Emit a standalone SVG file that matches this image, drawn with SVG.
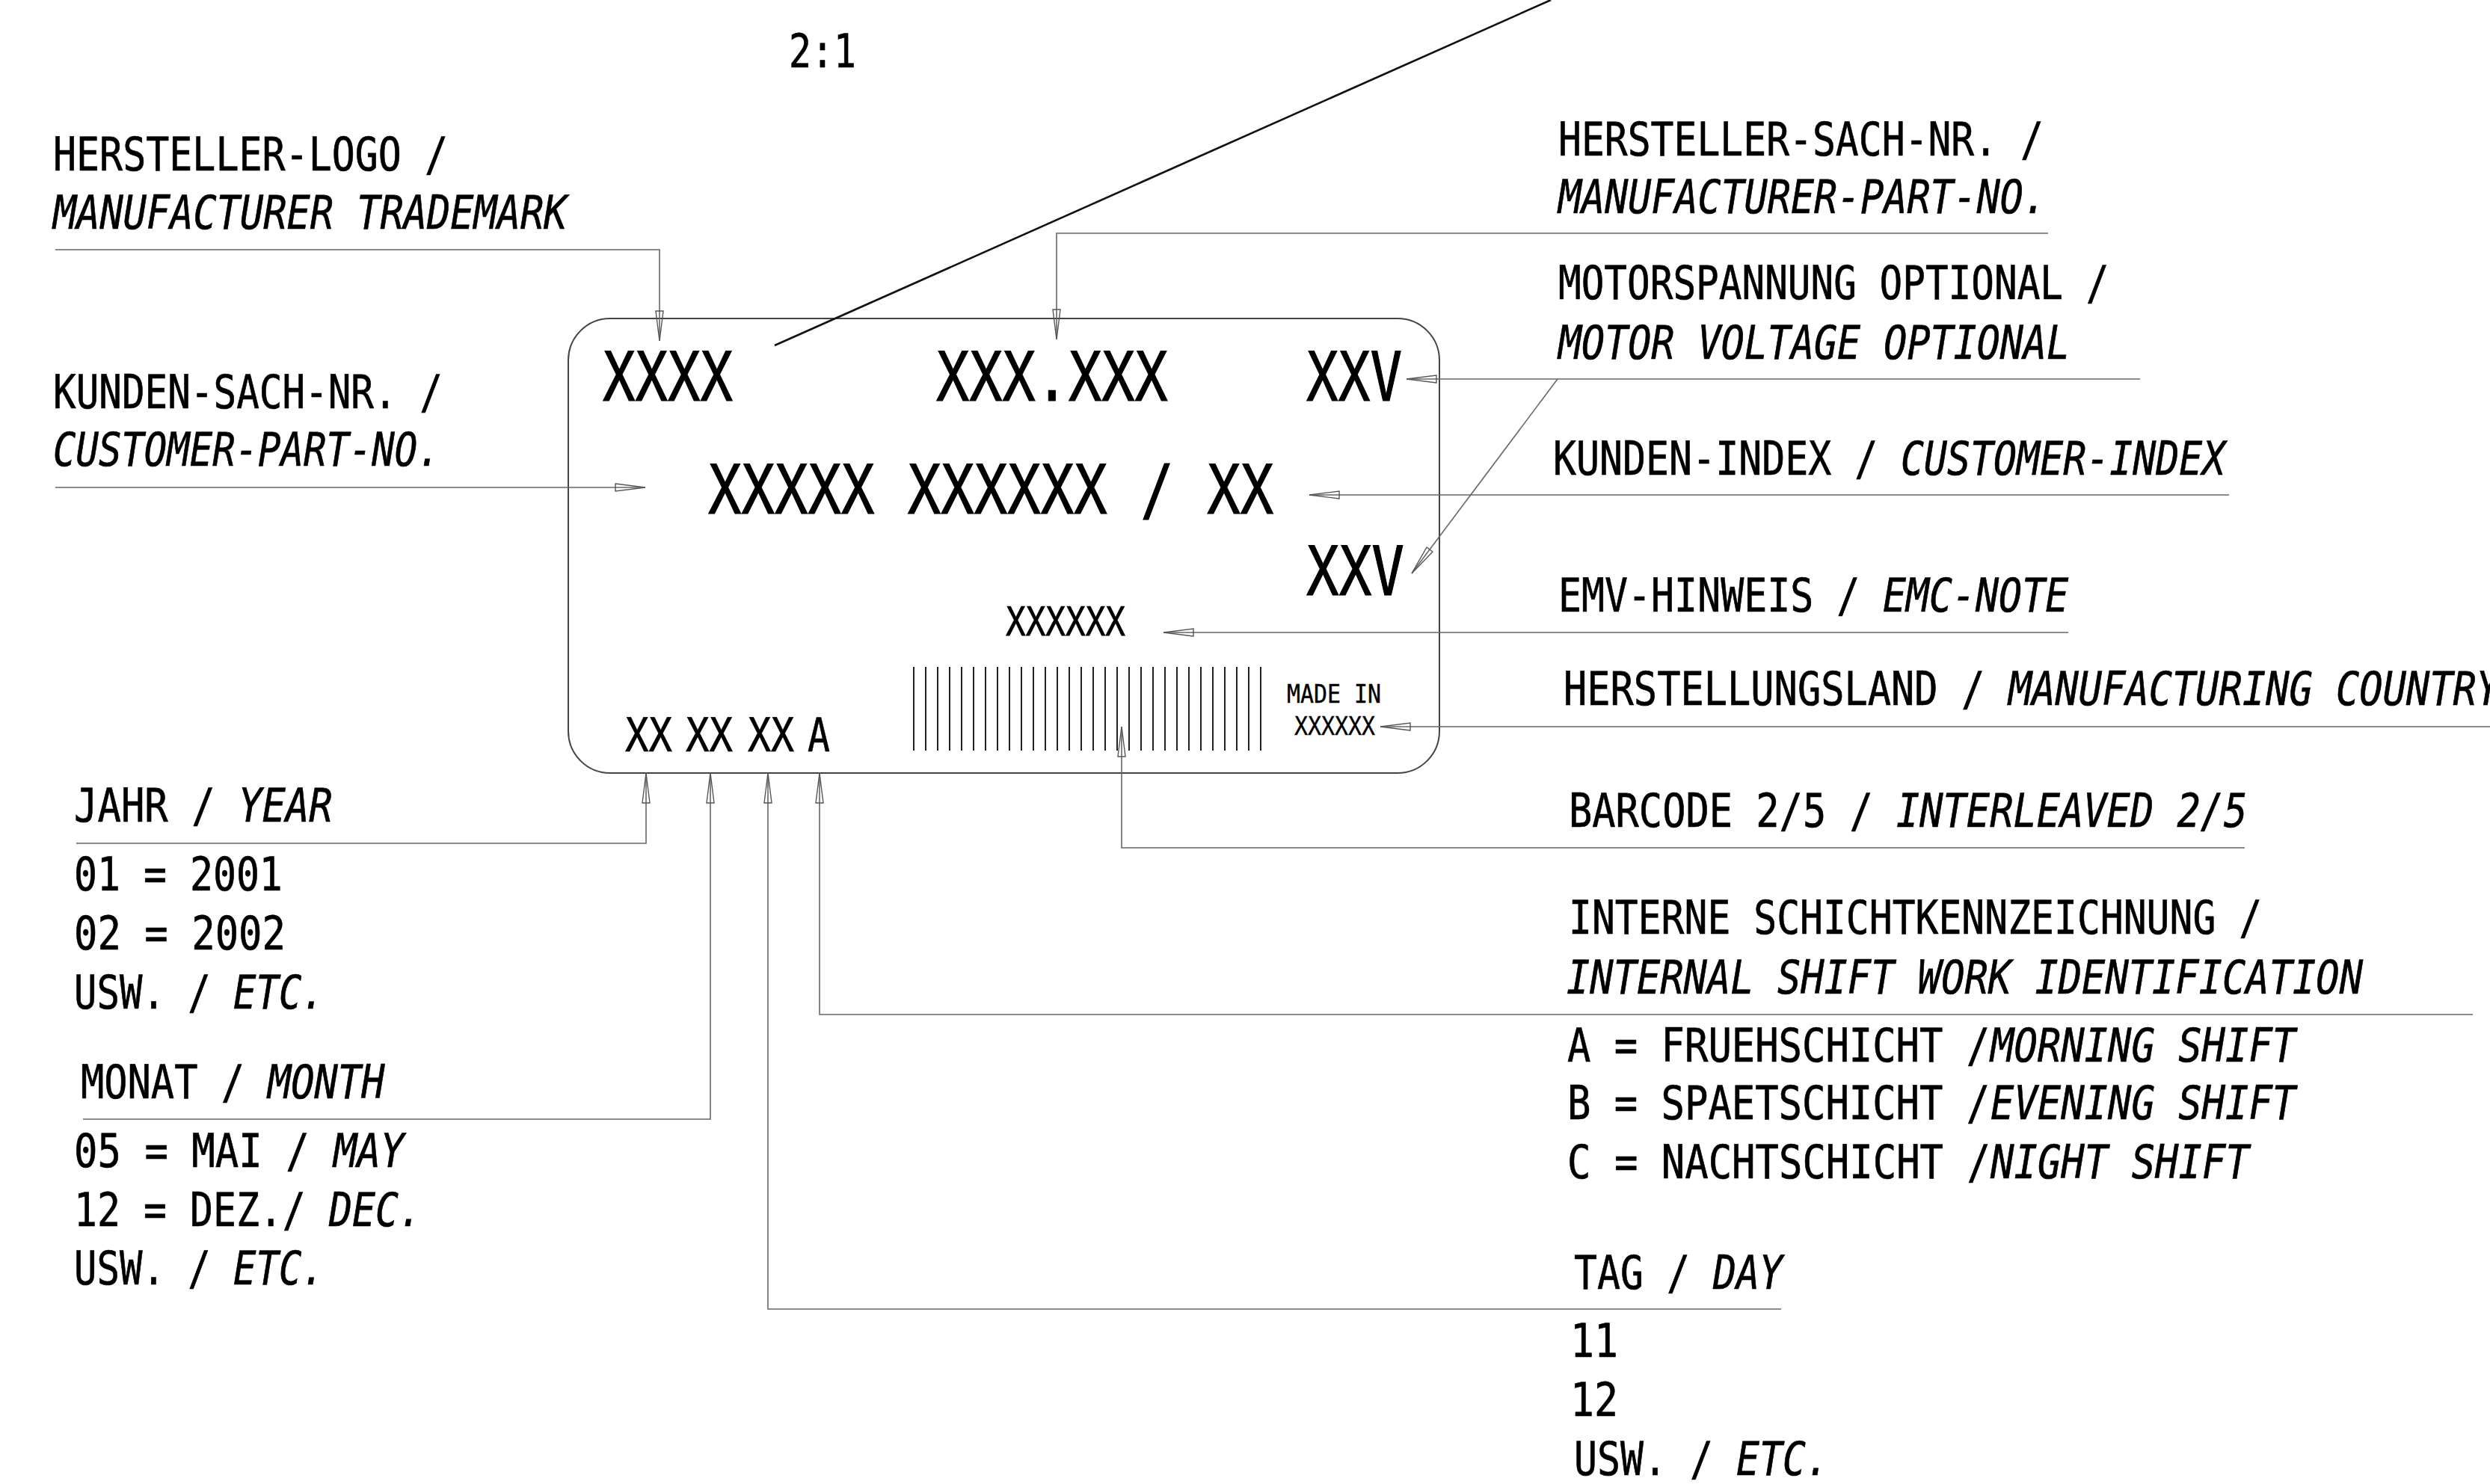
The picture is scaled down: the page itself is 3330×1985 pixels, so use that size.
<svg xmlns="http://www.w3.org/2000/svg" width="3330" height="1985" viewBox="0 0 3330 1985">
<defs>
<style>
text{font-family:"DejaVu Sans Mono","Liberation Mono",monospace;fill:#000;stroke:#000;stroke-width:0.7;}
.l{font-size:63px;}
.big{font-size:90px;stroke-width:1.2;}
.mid{font-size:53px;}
.sm{font-size:34px;stroke-width:0.4;}
.i{font-style:italic;}
.ld{fill:none;stroke:#666;stroke-width:1.6;}
.ar{marker-end:url(#arr);}
</style>
<marker id="arr" markerUnits="userSpaceOnUse" markerWidth="44" markerHeight="14" refX="40" refY="6" orient="auto" overflow="visible">
<path d="M0,1 L40,6 L0,11 Z" fill="none" stroke="#555" stroke-width="1.4"/>
</marker>
</defs>
<rect width="3330" height="1985" fill="#fff"/>

<text class="l" transform="translate(1055,90) scale(0.79,1)">2:1</text>

<g id="label">
<rect x="760" y="426" width="1165" height="608" rx="56" ry="56" fill="none" stroke="#444" stroke-width="2"/>
<text class="big" transform="translate(806,536) scale(0.803,1)">XXXX</text>
<text class="big" transform="translate(1252,536) scale(0.817,1)">XXX.XXX</text>
<text class="big" transform="translate(1747,536) scale(0.788,1)">XXV</text>
<text class="big" transform="translate(947,687) scale(0.821,1)">XXXXX XXXXXX / XX</text>
<text class="big" transform="translate(1747,796) scale(0.806,1)">XXV</text>
<text class="mid" transform="translate(1345,850) scale(0.836,1)">XXXXXX</text>
<text class="sm" transform="translate(1721,940) scale(0.879,1)">MADE IN</text>
<text class="sm" transform="translate(1731,983) scale(0.879,1)">XXXXXX</text>
<text class="l" transform="translate(836,1005) scale(0.83,1)">XX</text>
<text class="l" transform="translate(917,1005) scale(0.83,1)">XX</text>
<text class="l" transform="translate(1000,1005) scale(0.82,1)">XX</text>
<text class="l" transform="translate(1080,1005) scale(0.79,1)">A</text>
<g id="barcode" stroke="#222" stroke-width="2">
<path d="M1222,892V1004M1238,892V1004M1254,892V1004M1270,892V1004M1286,892V1004M1302,892V1004M1318,892V1004M1334,892V1004M1350,892V1004M1366,892V1004M1382,892V1004M1398,892V1004M1414,892V1004M1430,892V1004M1446,892V1004M1462,892V1004M1478,892V1004M1494,892V1004M1510,892V1004M1526,892V1004M1542,892V1004M1558,892V1004M1574,892V1004M1590,892V1004M1606,892V1004M1622,892V1004M1638,892V1004M1654,892V1004M1670,892V1004M1686,892V1004"/>
</g>
</g>

<g id="connectors">
<line x1="1036" y1="462" x2="2074" y2="0" stroke="#111" stroke-width="2.6"/>
<polyline class="ld ar" points="74,334 882,334 882,456"/>
<polyline class="ld ar" points="2739,312 1413,312 1413,454"/>
<polyline class="ld ar" points="2862,507 1881,507"/>
<polyline class="ld ar" points="2083,507 1888,767"/>
<polyline class="ld ar" points="74,652 863,652"/>
<polyline class="ld ar" points="2981,662 1751,662"/>
<polyline class="ld ar" points="2766,846 1556,846"/>
<polyline class="ld ar" points="3330,972 1846,972"/>
<polyline class="ld ar" points="3002,1134 1500,1134 1500,972"/>
<polyline class="ld ar" points="3307,1357 1096,1357 1096,1034"/>
<polyline class="ld ar" points="2382,1751 1027,1751 1027,1034"/>
<polyline class="ld ar" points="111,1497 950,1497 950,1034"/>
<polyline class="ld ar" points="102,1128 864,1128 864,1034"/>
</g>

<g id="n-trademark">
<text class="l" transform="translate(71,228) scale(0.819,1)">HERSTELLER-LOGO /</text>
<text class="l i" transform="translate(71,306) scale(0.824,1)">MANUFACTURER TRADEMARK</text>
</g>
<g id="n-customer-part">
<text class="l" transform="translate(71,546) scale(0.808,1)">KUNDEN-SACH-NR. /</text>
<text class="l i" transform="translate(71,623) scale(0.803,1)">CUSTOMER-PART-NO.</text>
</g>
<g id="n-mfr-part">
<text class="l" transform="translate(2084,208) scale(0.815,1)">HERSTELLER-SACH-NR. /</text>
<text class="l i" transform="translate(2084,285) scale(0.82,1)">MANUFACTURER-PART-NO.</text>
</g>
<g id="n-motor">
<text class="l" transform="translate(2084,400) scale(0.809,1)">MOTORSPANNUNG OPTIONAL /</text>
<text class="l i" transform="translate(2084,480) scale(0.82,1)">MOTOR VOLTAGE OPTIONAL</text>
</g>
<g id="n-customer-index">
<text class="l" transform="translate(2077,635) scale(0.818,1)">KUNDEN-INDEX /</text>
<text class="l i" transform="translate(2542,635) scale(0.818,1)">CUSTOMER-INDEX</text>
</g>
<g id="n-emv">
<text class="l" transform="translate(2084,818) scale(0.818,1)">EMV-HINWEIS /</text>
<text class="l i" transform="translate(2518,818) scale(0.818,1)">EMC-NOTE</text>
</g>
<g id="n-country">
<text class="l" transform="translate(2091,943) scale(0.825,1)">HERSTELLUNGSLAND /</text>
<text class="l i" transform="translate(2686,943) scale(0.825,1)">MANUFACTURING COUNTRY</text>
</g>
<g id="n-barcode">
<text class="l" transform="translate(2098,1106) scale(0.825,1)">BARCODE 2/5 /</text>
<text class="l i" transform="translate(2536,1106) scale(0.825,1)">INTERLEAVED 2/5</text>
</g>
<g id="n-shift">
<text class="l" transform="translate(2098,1249) scale(0.815,1)">INTERNE SCHICHTKENNZEICHNUNG /</text>
<text class="l i" transform="translate(2095,1329) scale(0.826,1)">INTERNAL SHIFT WORK IDENTIFICATION</text>
<text class="l" transform="translate(2096,1420) scale(0.828,1)">A = FRUEHSCHICHT /</text>
<text class="l i" transform="translate(2662,1420) scale(0.828,1)">MORNING SHIFT</text>
<text class="l" transform="translate(2096,1497) scale(0.828,1)">B = SPAETSCHICHT /</text>
<text class="l i" transform="translate(2662,1497) scale(0.828,1)">EVENING SHIFT</text>
<text class="l" transform="translate(2096,1576) scale(0.829,1)">C = NACHTSCHICHT /</text>
<text class="l i" transform="translate(2662,1576) scale(0.829,1)">NIGHT SHIFT</text>
</g>
<g id="n-day">
<text class="l" transform="translate(2105,1724) scale(0.817,1)">TAG /</text>
<text class="l i" transform="translate(2291,1724) scale(0.817,1)">DAY</text>
<text class="l" transform="translate(2100,1815) scale(0.844,1)">11</text>
<text class="l" transform="translate(2100,1894) scale(0.844,1)">12</text>
<text class="l" transform="translate(2105,1973) scale(0.817,1)">USW. /</text>
<text class="l i" transform="translate(2322,1973) scale(0.817,1)">ETC.</text>
</g>
<g id="n-year">
<text class="l" transform="translate(99,1099) scale(0.829,1)">JAHR /</text>
<text class="l i" transform="translate(319,1099) scale(0.829,1)">YEAR</text>
<text class="l" transform="translate(99,1191) scale(0.817,1)">01 = 2001</text>
<text class="l" transform="translate(99,1270) scale(0.829,1)">02 = 2002</text>
<text class="l" transform="translate(99,1349) scale(0.803,1)">USW. /</text>
<text class="l i" transform="translate(312,1349) scale(0.803,1)">ETC.</text>
</g>
<g id="n-month">
<text class="l" transform="translate(108,1469) scale(0.825,1)">MONAT /</text>
<text class="l i" transform="translate(358,1469) scale(0.825,1)">MONTH</text>
<text class="l" transform="translate(99,1561) scale(0.83,1)">05 = MAI /</text>
<text class="l i" transform="translate(446,1561) scale(0.83,1)">MAY</text>
<text class="l" transform="translate(99,1640) scale(0.817,1)">12 = DEZ./</text>
<text class="l i" transform="translate(440,1640) scale(0.817,1)">DEC.</text>
<text class="l" transform="translate(99,1718) scale(0.803,1)">USW. /</text>
<text class="l i" transform="translate(312,1718) scale(0.803,1)">ETC.</text>
</g>
</svg>
